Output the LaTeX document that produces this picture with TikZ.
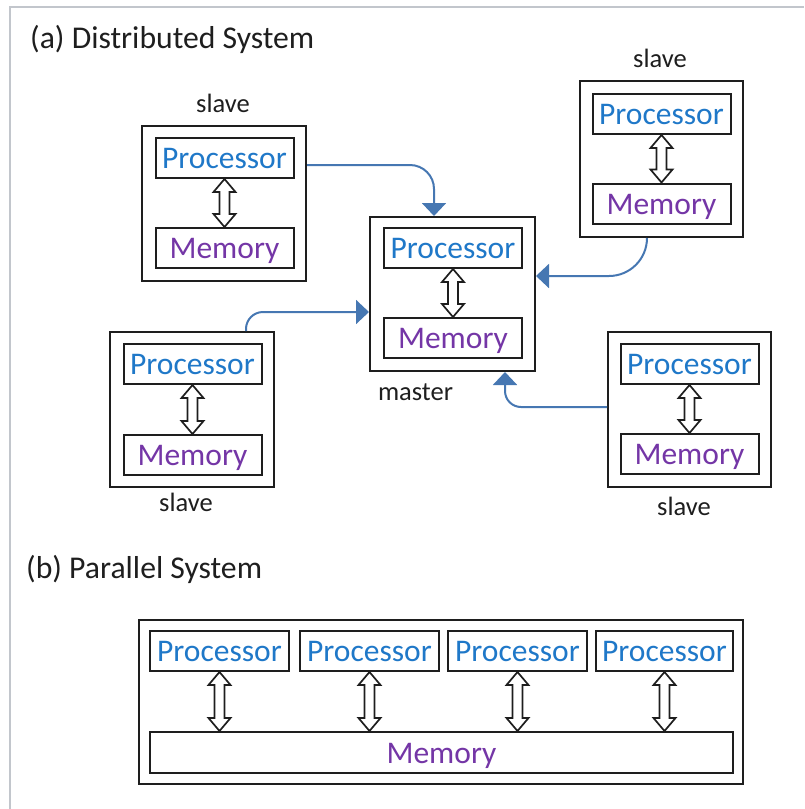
\documentclass[tikz,border=0pt]{standalone}
\usepackage{fontspec}
\setmainfont{Carlito}
\usetikzlibrary{arrows.meta,calc}

\definecolor{procblue}{HTML}{1F78C8}
\definecolor{mempurple}{HTML}{7436A6}
\definecolor{linkblue}{HTML}{4677B2}
\definecolor{framegray}{HTML}{C2C6CC}
\definecolor{ink}{HTML}{1E1E1E}

\tikzset{
  unit/.style={draw=ink, line width=2pt, minimum width=164pt, minimum height=155pt, inner sep=0pt},
  cell/.style={draw=ink, line width=2pt, minimum width=138pt, minimum height=40pt, inner sep=0pt,
               text height=21pt, text depth=-1pt, font=\fontsize{31.5}{33}\selectfont},
  proc/.style={cell, text=procblue},
  mem/.style={cell, text=mempurple},
  role/.style={anchor=base, inner sep=0pt, text=ink, font=\fontsize{26.5}{28}\selectfont},
  heading/.style={anchor=base west, inner sep=0pt, text=ink, font=\fontsize{31.7}{33}\selectfont},
  link/.style={draw=linkblue, line width=2pt, -{Triangle[width=24pt,length=13pt]}},
  bus/.style={draw=ink, line width=1.7pt, fill=white, line join=miter},
}

% hollow two-headed arrow between the bottom of #1 and the top of #2
\newcommand\busarrow[2]{%
  \draw[bus] let \p1=(#1.south), \p2=(#2.north) in
    (\x1,\y1) -- (\x1+11pt,\y1-13pt) -- (\x1+5pt,\y1-13pt) -- (\x1+5pt,\y2+13pt)
    -- (\x1+11pt,\y2+13pt) -- (\x1,\y2) -- (\x1-11pt,\y2+13pt) -- (\x1-5pt,\y2+13pt)
    -- (\x1-5pt,\y1-13pt) -- (\x1-11pt,\y1-13pt) -- cycle;}

\begin{document}
\begin{tikzpicture}[x=1pt, y=-1pt]
\useasboundingbox (0,0) rectangle (804,809);

% frame
\draw[framegray, line width=2pt] (10,809) -- (10,7) -- (804,7);

% ---------- (a) distributed system ----------
\node[heading] (ta) at (30,48) {(a) Distributed System};

% master
\node[unit, minimum width=165pt, minimum height=154pt] (m) at (452.5,294) {};
\node[proc] (mp) at (453,248) {Processor};
\node[mem]  (mm) at (453,338) {Memory};
\node[role] (ml) at (415.5,400) {master};

% slave, upper left
\node[unit] (s1) at (224,203.5) {};
\node[proc] (s1p) at (224.5,158) {Processor};
\node[mem]  (s1m) at (224.5,248) {Memory};
\node[role] (s1l) at (223,112) {slave};

% slave, upper right
\node[unit, minimum width=163pt, minimum height=156pt] (s2) at (661.5,159) {};
\node[proc] (s2p) at (661.5,114) {Processor};
\node[mem]  (s2m) at (661.5,203.5) {Memory};
\node[role] (s2l) at (660,67) {slave};

% slave, lower left
\node[unit] (s3) at (192,409.5) {};
\node[proc] (s3p) at (192.5,364) {Processor};
\node[mem]  (s3m) at (192.5,455) {Memory};
\node[role] (s3l) at (186,511) {slave};

% slave, lower right
\node[unit, minimum width=163pt] (s4) at (689.5,409.5) {};
\node[proc] (s4p) at (689.5,364) {Processor};
\node[mem]  (s4m) at (689.5,454) {Memory};
\node[role] (s4l) at (684,515) {slave};

% processor <-> memory inside each machine
\busarrow{mp}{mm}
\busarrow{s1p}{s1m}
\busarrow{s2p}{s2m}
\busarrow{s3p}{s3m}
\busarrow{s4p}{s4m}

% slaves report to the master
\draw[link, rounded corners=24pt] ($(s1.north east)+(0,40)$) -| ($(m.north)+(-18.5,0)$);
\draw[link, rounded corners=38pt] ($(s2.south)+(-14.5,0)$) |- ($(m.north east)+(0,60)$);
\draw[link, rounded corners=17pt] ($(s3.north east)+(-29,0)$) |- ($(m.north west)+(0,96)$);
\draw[link, rounded corners=16pt] ($(s4.north west)+(0,76)$) -| ($(m.south east)+(-31,0)$);

% ---------- (b) parallel system ----------
\node[heading] (tb) at (26,578) {(b) Parallel System};

\node[draw=ink, line width=2pt, minimum width=604pt, minimum height=164pt, inner sep=0pt] (pb) at (441,702) {};
\node[proc, minimum width=139pt] (p1) at (219.5,651) {Processor};
\node[proc, minimum width=139pt] (p2) at (369.5,651) {Processor};
\node[proc, minimum width=139pt] (p3) at (517.5,651) {Processor};
\node[proc, minimum width=137pt] (p4) at (664.5,651) {Processor};
\node[mem, minimum width=583pt, minimum height=41pt] (pm) at (441.5,752.5) {Memory};

\busarrow{p1}{pm}
\busarrow{p2}{pm}
\busarrow{p3}{pm}
\busarrow{p4}{pm}
\end{tikzpicture}
\end{document}
